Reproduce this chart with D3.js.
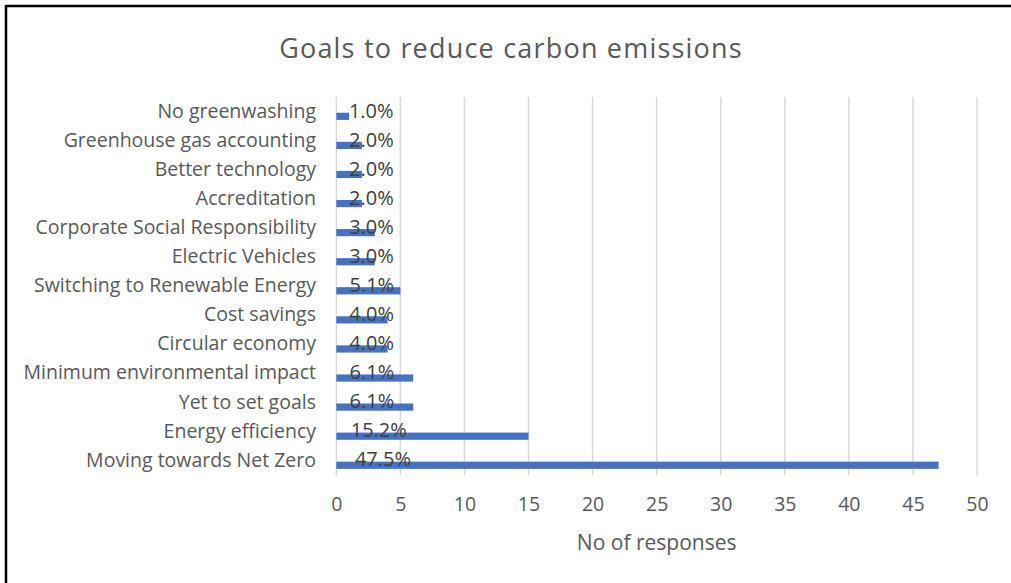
<!DOCTYPE html>
<html><head><meta charset="utf-8">
<script src="https://cdn.jsdelivr.net/npm/d3@7"></script>
<style>body{margin:0;background:#fff}svg{display:block}text{font-family:"Open Sans",sans-serif}</style>
</head><body>
<svg id="chart" width="1011" height="583"></svg>
<script>
const categories = ["No greenwashing","Greenhouse gas accounting","Better technology","Accreditation","Corporate Social Responsibility","Electric Vehicles","Switching to Renewable Energy","Cost savings","Circular economy","Minimum environmental impact","Yet to set goals","Energy efficiency","Moving towards Net Zero"];
const responses = [1,2,2,2,3,3,5,4,4,6,6,15,47];
const percentShares = [0.010,0.020,0.020,0.020,0.030,0.030,0.051,0.040,0.040,0.061,0.061,0.152,0.475];
const xTicks = [0,5,10,15,20,25,30,35,40,45,50];

(function(){
const svg = d3.select("#chart");
const W = 1011, H = 583;
const pL = 336.3, pR = 977, pT = 97, pB = 475;
const x = d3.scaleLinear().domain([0,50]).range([pL,pR]);
const y = d3.scaleBand().domain(categories).range([pT,pB]);
const font = "'Open Sans', sans-serif";
const textColor = "#595959";
const fmt = d3.format(".1%");

// frame
svg.append("line").attr("x1",6).attr("x2",W).attr("y1",6).attr("y2",6).attr("stroke","#000").attr("stroke-width",2.5);
svg.append("line").attr("x1",6).attr("x2",6).attr("y1",5).attr("y2",H).attr("stroke","#000").attr("stroke-width",2.5);

svg.append("text").attr("x",511).attr("y",58).attr("text-anchor","middle")
  .attr("font-size",27).attr("letter-spacing",1.2).attr("fill",textColor).text("Goals to reduce carbon emissions");

// gridlines
svg.append("g").selectAll("line").data(xTicks).join("line")
  .attr("x1",d=>x(d)).attr("x2",d=>x(d)).attr("y1",pT).attr("y2",pB)
  .attr("stroke","#d9d9d9").attr("stroke-width",1.5);

// x axis labels
const xAxis = d3.axisBottom(x).tickValues(xTicks).tickSize(0).tickPadding(0);
const gx = svg.append("g").attr("transform",`translate(0,497)`).call(xAxis);
gx.select(".domain").remove();
gx.selectAll("text").attr("font-size",19.5).attr("fill",textColor).attr("font-family",font);

// y labels
const yAxis = d3.axisLeft(y).tickSize(0).tickPadding(0);
const gy = svg.append("g").attr("transform",`translate(316,0)`).call(yAxis);
gy.select(".domain").remove();
gy.selectAll("text").attr("font-size",19.5).attr("fill",textColor).attr("font-family",font);

// bars
svg.append("g").selectAll("rect").data(responses).join("rect")
  .attr("x",x(0)).attr("y",(d,i)=>y(categories[i])+y.bandwidth()/2+1.2)
  .attr("width",d=>x(d)-x(0)).attr("height",7.2).attr("fill","#4472c4");

// percent labels (outside end of the invisible share series)
svg.append("g").selectAll("text").data(percentShares).join("text")
  .attr("x",d=>x(d)+12.5).attr("y",(d,i)=>y(categories[i])+y.bandwidth()/2-1)
  .attr("dy","0.35em").attr("text-anchor","start").attr("font-size",20).attr("fill","#404040")
  .text(d=>fmt(d));

svg.append("text").attr("x",(pL+pR)/2).attr("y",550).attr("text-anchor","middle")
  .attr("font-size",21).attr("fill",textColor).text("No of responses");
})();
</script>
</body></html>
